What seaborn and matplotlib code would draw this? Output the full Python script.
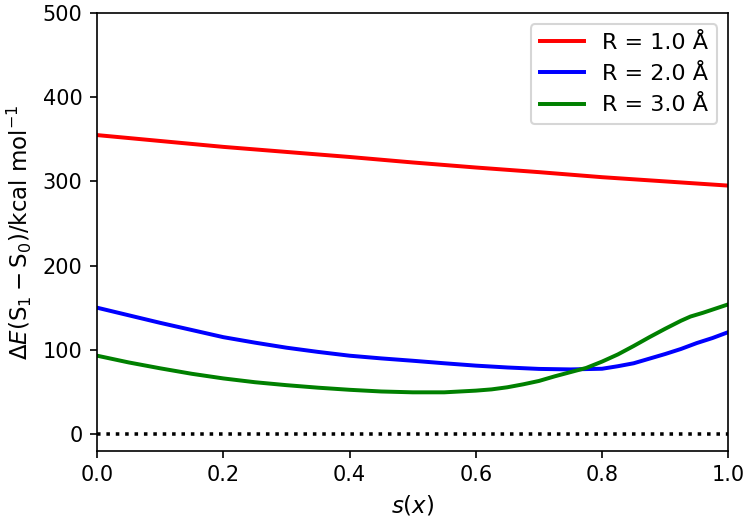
import matplotlib
matplotlib.use("Agg")
import matplotlib.pyplot as plt
import seaborn as sns
import pandas as pd

s_red = [0.0, 0.1, 0.2, 0.3, 0.4, 0.5, 0.6, 0.7, 0.8, 0.9, 1.0]
e_r1 = [355, 348, 341, 335, 329, 322.5, 316.5, 311, 305, 300, 295]

s_blue = [0.0, 0.05, 0.1, 0.15, 0.2, 0.25, 0.3, 0.35, 0.4, 0.45, 0.5, 0.55,
          0.6, 0.65, 0.7, 0.75, 0.8, 0.825, 0.85, 0.875, 0.9, 0.925, 0.95, 0.975, 1.0]
e_r2 = [150, 141, 132, 123.5, 115, 108.5, 102.5, 97.5, 93, 89.8, 87, 84,
        81.2, 79, 77.3, 76.7, 77.5, 80.5, 84, 89.5, 95, 101, 108, 114, 121]

s_green = [0.0, 0.05, 0.1, 0.15, 0.2, 0.25, 0.3, 0.35, 0.4, 0.45, 0.5, 0.55,
           0.6, 0.625, 0.65, 0.675, 0.7, 0.725, 0.75, 0.775, 0.8, 0.825, 0.85,
           0.875, 0.9, 0.925, 0.94, 0.96, 0.98, 1.0]
e_r3 = [93, 85, 78, 71.5, 66, 61.5, 58, 55, 52.5, 50.5, 49.5, 49.5,
        51.5, 53, 55.5, 59, 63, 68.5, 73.5, 78.5, 86, 94.5, 104.5,
        115, 125, 134.5, 139.5, 144, 149, 154]

labels = ["R = 1.0 Å", "R = 2.0 Å", "R = 3.0 Å"]
colors = ["red", "blue", "green"]

fig, ax = plt.subplots(figsize=(7.47 / 1.5, 5.20 / 1.5), dpi=150)
fig.subplots_adjust(left=0.13, right=0.975, top=0.975, bottom=0.133)

ax.axhline(0, color="black", linestyle=":", linewidth=1.7)
for xs, ys, lab, col in zip([s_red, s_blue, s_green], [e_r1, e_r2, e_r3], labels, colors):
    df = pd.DataFrame({"s": xs, "E": ys})
    sns.lineplot(data=df, x="s", y="E", ax=ax, color=col, label=lab, linewidth=1.9)

ax.set_xlim(0, 1.0)
ax.set_ylim(-20, 500)
ax.set_xticks([0.0, 0.2, 0.4, 0.6, 0.8, 1.0])
ax.set_yticks([0, 100, 200, 300, 400, 500])
ax.set_xlabel(r"$s(x)$", fontsize=11)
ax.set_ylabel(r"$\Delta E(\mathrm{S_1} - \mathrm{S_0})$/kcal mol$^{-1}$", fontsize=11)
ax.legend(loc="upper right", fontsize=10.7)

fig.savefig("out.png", dpi=150)
